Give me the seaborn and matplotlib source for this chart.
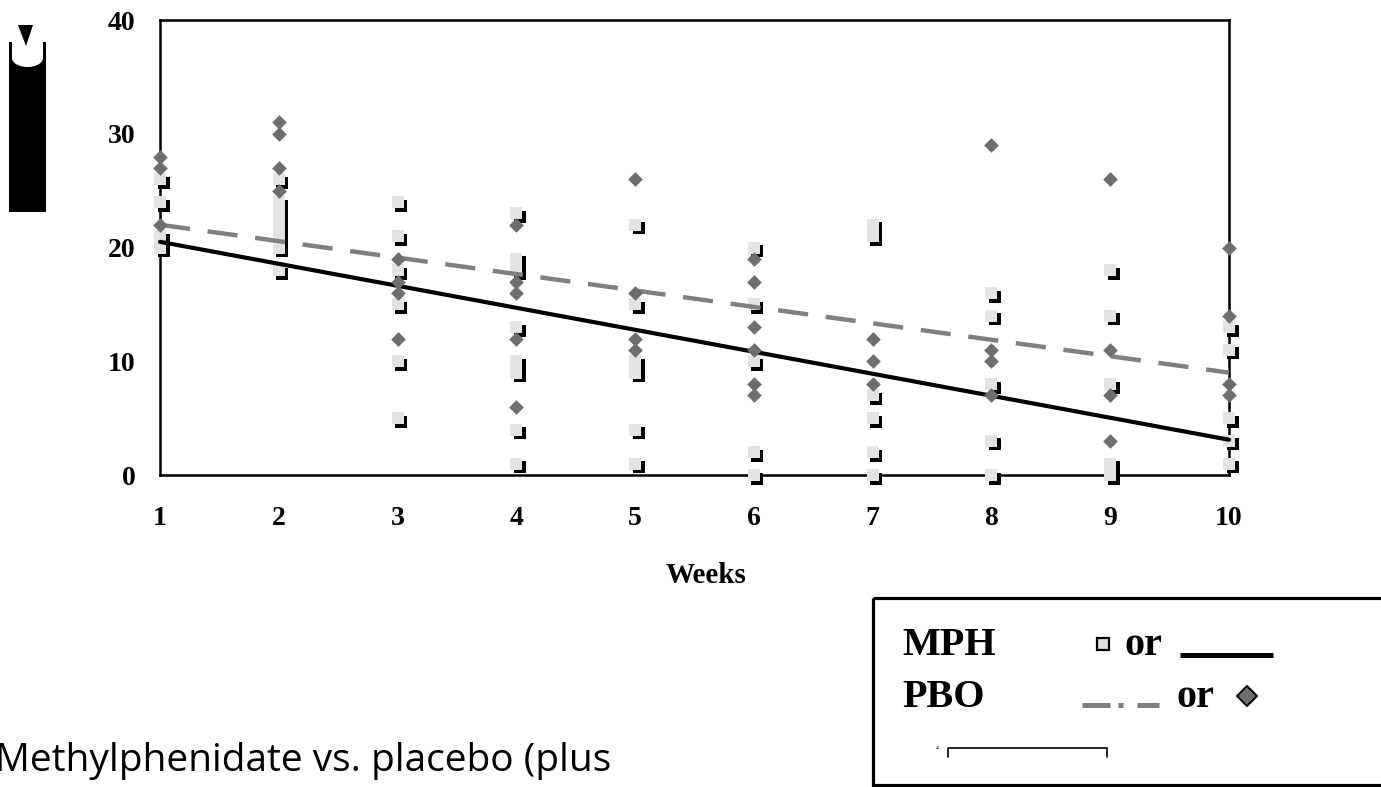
import numpy as np
import pandas as pd
import matplotlib
matplotlib.use("Agg")
import matplotlib.pyplot as plt
import matplotlib.transforms as mtransforms
from matplotlib.patches import Rectangle, Polygon, Ellipse
import seaborn as sns

# ---------------- data ----------------
weeks = [1, 2, 3, 4, 5, 6, 7, 8, 9, 10]
mph_scores = [
    [26, 24, 21, 20],
    [26, 24, 23, 22, 21, 20, 18],
    [24, 21, 18, 15, 10, 5],
    [23, 19, 18, 13, 10, 9, 4, 1],
    [22, 15, 10, 9, 4, 1],
    [20, 15, 10, 2, 0],
    [22, 21, 7, 5, 2, 0],
    [16, 14, 8, 3, 0],
    [18, 14, 8, 1, 0],
    [13, 11, 5, 3, 1],
]
pbo_scores = [
    [28, 27, 22],
    [31, 30, 27, 25],
    [19, 17, 16, 12],
    [22, 17, 16, 12, 6],
    [26, 16, 12, 11],
    [19, 17, 13, 11, 8, 7],
    [12, 10, 8],
    [29, 11, 10, 7],
    [26, 11, 7, 3],
    [20, 14, 8, 7],
]
trend_weeks = [1, 10]
mph_trend = [20.5, 3.1]
pbo_trend = [22.0, 9.0]
y_ticks = [0, 10, 20, 30, 40]
x_label = "Weeks"
caption = "Methylphenidate vs. placebo (plus"
legend_rows = ["MPH", "PBO"]

mph_df = pd.DataFrame([(w, v) for w, vals in zip(weeks, mph_scores) for v in vals],
                      columns=["week", "score"])
pbo_df = pd.DataFrame([(w, v) for w, vals in zip(weeks, pbo_scores) for v in vals],
                      columns=["week", "score"])
mph_line_df = pd.DataFrame({"week": trend_weeks, "score": mph_trend})
pbo_line_df = pd.DataFrame({"week": trend_weeks, "score": pbo_trend})

# ---------------- style ----------------
sns.set_theme(style="white")
plt.rcParams["font.family"] = ["Liberation Serif", "DejaVu Serif"]

W, H, DPI = 1381, 787, 100
fig = plt.figure(figsize=(W / DPI, H / DPI), dpi=DPI)
fig.patch.set_facecolor("white")

L, R, T, B = 160, 1229, 20, 475
ax = fig.add_axes([L / W, 1 - B / H, (R - L) / W, (B - T) / H])
ax.set_facecolor("white")

SQ_FILL = "#e3e3e3"
DIAM = "#6e6e6e"
DASH = "#7f7f7f"

# shadowed squares (MPH)
shadow = mtransforms.offset_copy(ax.transData, fig=fig, x=3.5, y=-3.5, units="dots")
sns.scatterplot(data=mph_df, x="week", y="score", ax=ax, marker="s", s=85,
                color="black", linewidth=0, transform=shadow, clip_on=False, zorder=3)
sns.scatterplot(data=mph_df, x="week", y="score", ax=ax, marker="s", s=85,
                color=SQ_FILL, linewidth=0, clip_on=False, zorder=4)

# trend lines
sns.lineplot(data=mph_line_df, x="week", y="score", ax=ax, color="black",
             linewidth=3.0, zorder=5, clip_on=False)
sns.lineplot(data=pbo_line_df, x="week", y="score", ax=ax, color=DASH,
             linewidth=3.2, zorder=5, clip_on=False)
ax.lines[-1].set_dashes([6.8, 4.0])
ax.lines[-1].set_dash_capstyle("butt")

# diamonds (PBO)
sns.scatterplot(data=pbo_df, x="week", y="score", ax=ax, marker="D", s=56,
                color=DIAM, linewidth=0, clip_on=False, zorder=6)

ax.set_xlim(1, 10)
ax.set_ylim(0, 40)
ax.set_xticks(weeks)
ax.set_yticks(y_ticks)
ax.set_xticklabels([str(w) for w in weeks])
ax.set_yticklabels([str(v) for v in y_ticks])
for s in ax.spines.values():
    s.set_visible(True)
    s.set_color("black")
    s.set_linewidth(1.8)
ax.tick_params(axis="both", direction="out", length=7.5, width=1.6, color="black",
               labelsize=20, labelcolor="black")
ax.tick_params(axis="x", pad=15)
ax.tick_params(axis="y", pad=10)
for lab in ax.get_xticklabels() + ax.get_yticklabels():
    lab.set_fontweight("bold")
ax.set_xlabel("")
ax.set_ylabel("")
ax.text(0.511, (B - 583) / (B - T), x_label, transform=ax.transAxes, ha="center",
        va="baseline", fontsize=21, fontweight="bold", color="black")
ax.grid(False)

# ---------------- overlay in figure pixels: legend box, artifact, caption ----------------
ov = fig.add_axes([0, 0, 1, 1], zorder=10)
ov.set_xlim(0, W)
ov.set_ylim(H, 0)
ov.axis("off")
ov.patch.set_alpha(0)

# legend frame
ov.add_patch(Rectangle((873, 598), 600, 187, fill=False, edgecolor="black",
                       linewidth=2.3, clip_on=False))
lfont = dict(fontsize=29, fontweight="bold", color="black", va="baseline", ha="left")
ov.text(902, 655, legend_rows[0], **lfont)
ov.text(902, 707, legend_rows[1], **lfont)
ov.text(1125, 655, "or", **lfont)
ov.text(1177, 707, "or", **lfont)
ov.plot([1103], [643.5], marker="s", markersize=8.5, markerfacecolor=SQ_FILL,
        markeredgecolor="black", markeredgewidth=1.6, linestyle="none")
ov.plot([1180, 1273], [654.5, 654.5], color="black", linewidth=3.6, solid_capstyle="butt")
ov.plot([1082, 1110], [704.5, 704.5], color=DASH, linewidth=3.6, solid_capstyle="butt")
ov.plot([1118, 1123], [704.5, 704.5], color=DASH, linewidth=3.6, solid_capstyle="butt")
ov.plot([1137, 1159], [704.5, 704.5], color=DASH, linewidth=3.6, solid_capstyle="butt")
ov.plot([1247.5], [695.5], marker="D", markersize=10, markerfacecolor=DIAM,
        markeredgecolor="black", markeredgewidth=1.4, linestyle="none")
# tiny scale bar inside the legend
ov.plot([948, 948, 1107, 1107], [757, 748, 748, 757], color="black", linewidth=1.2)
ov.text(940, 748, "40", fontsize=3, color="black", ha="right", va="center")

# black scan artifact at top-left
ov.add_patch(Rectangle((9, 42), 37, 170, facecolor="black", edgecolor="none"))
ov.add_patch(Rectangle((12, 40), 31, 18, facecolor="white", edgecolor="none"))
ov.add_patch(Ellipse((27.5, 58), 31, 18, facecolor="white", edgecolor="none"))
ov.add_patch(Polygon([[18, 25], [33, 25], [26, 46]], closed=True, facecolor="black",
                     edgecolor="none"))

# caption (partially cut off at left edge, as in the reference)
fig.text(-5 / W, 1 - 771 / H, caption, fontsize=28, family=["Open Sans", "DejaVu Sans"],
         color="black", ha="left", va="baseline")

fig.savefig("out.png", dpi=DPI, facecolor="white")
